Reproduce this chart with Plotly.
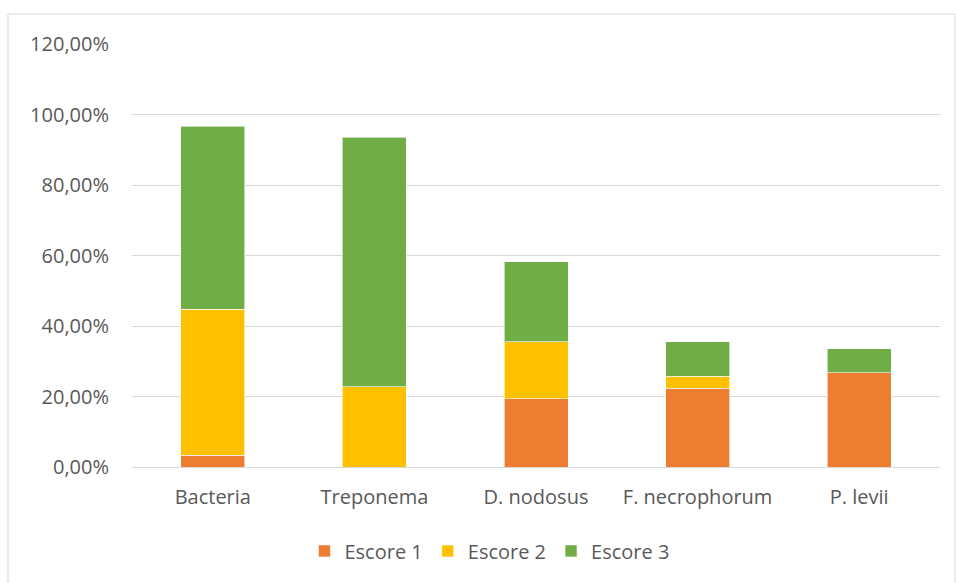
import plotly.graph_objects as go

categories = ["Bacteria", "Treponema", "D. nodosus", "F. necrophorum", "P. levii"]
escore1 = [0.034, 0.0, 0.193, 0.224, 0.267]
escore2 = [0.414, 0.227, 0.162, 0.034, 0.0]
escore3 = [0.519, 0.709, 0.227, 0.097, 0.068]
series_names = ["Escore 1", "Escore 2", "Escore 3"]
colors = ["#ED7D31", "#FFC000", "#70AD47"]

fig = go.Figure()
for name, vals, c in zip(series_names, [escore1, escore2, escore3], colors):
    fig.add_trace(go.Bar(
        x=categories, y=vals, name=name,
        marker=dict(color=c, line=dict(color="rgba(255,255,255,0.6)", width=1)),
    ))

W, H = 956, 583
L, R, T, B = 132, 16, 44, 116
pw = W - L - R
ph = H - T - B
FS = 20

fig.update_layout(
    width=W, height=H,
    barmode="stack", bargap=0.604,
    separators=",.",
    paper_bgcolor="white", plot_bgcolor="white",
    margin=dict(l=L, r=R, t=T, b=B),
    font=dict(family="Open Sans", size=FS, color="#595959"),
    showlegend=True,
    legend=dict(orientation="h", xref="container", x=0.512, xanchor="center",
                yref="container", y=0.055, yanchor="middle",
                font=dict(size=FS, color="#595959"), traceorder="normal",
                itemwidth=30),
    xaxis=dict(showgrid=False, showline=True, linecolor="#d9d9d9", linewidth=1,
               ticks="", ticklabelstandoff=12, tickfont=dict(size=FS, color="#595959")),
    yaxis=dict(range=[0, 1.2], dtick=0.2, tickformat=".2%", showgrid=True,
               gridcolor="#d9d9d9", gridwidth=1, zeroline=False, ticks="",
               ticklabelstandoff=22, tickfont=dict(size=FS, color="#595959")),
)

# outer chart border
fig.add_shape(type="rect", xref="paper", yref="paper",
              x0=(8 - L) / pw, x1=(955 - L) / pw,
              y0=(H - B - 600) / ph, y1=(H - B - 14) / ph,
              line=dict(color="#d9d9d9", width=1), fillcolor="rgba(0,0,0,0)", layer="below")

fig.write_html("out.html")
